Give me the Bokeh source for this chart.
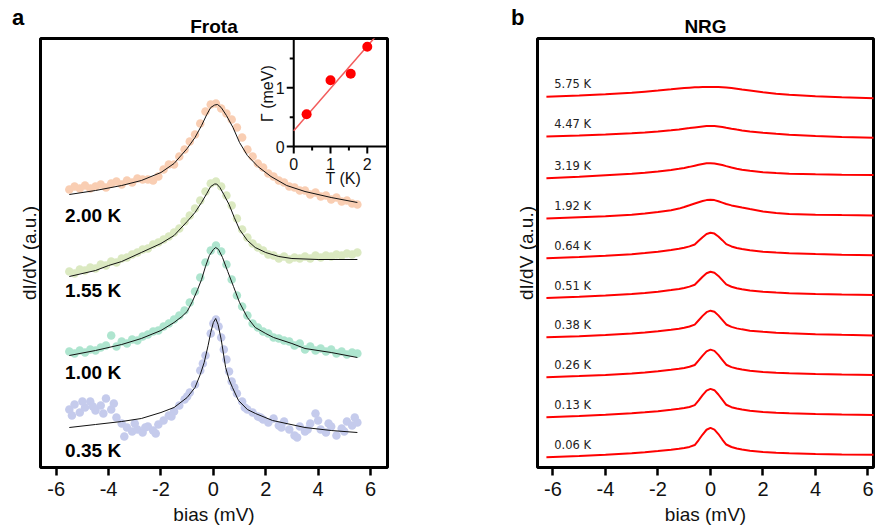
import math
from bokeh.plotting import figure
from bokeh.models import Range1d, FixedTicker, Title, Div
from bokeh.layouts import row
from bokeh.core.properties import value
from bokeh.embed import file_html
from bokeh.resources import INLINE

# ---------------- panel a : Frota fits of measured spectra ----------------
bias_pts = [-5.5, -5.3, -5.1, -4.9, -4.7, -4.5, -4.3, -4.1, -3.9, -3.7,
            -3.5, -3.3, -3.1, -2.9, -2.7, -2.5, -2.3, -2.1, -1.9, -1.7,
            -1.5, -1.3, -1.1, -0.9, -0.7, -0.5, -0.3, -0.1,
            0.1, 0.3, 0.5, 0.7, 0.9, 1.1, 1.3, 1.5, 1.7, 1.9,
            2.1, 2.3, 2.5, 2.7, 2.9, 3.1, 3.3, 3.5, 3.7, 3.9,
            4.1, 4.3, 4.5, 4.7, 4.9, 5.1, 5.3, 5.5]

data_200K = [278, 281, 279, 282, 279, 281, 283, 280, 284, 286,
             283, 287, 285, 289, 288, 288, 287, 291, 298, 303,
             303, 311, 318, 326, 333, 344, 356, 363,
             364, 359, 354, 348, 340, 330, 318, 311, 304, 300,
             294, 291, 287, 285, 281, 280, 277, 277, 273, 275,
             271, 272, 268, 270, 266, 267, 264, 263]
data_155K = [196, 194, 198, 197, 200, 199, 203, 202, 206, 205,
             209, 210, 213, 215, 218, 219, 223, 225, 228, 231,
             235, 239, 246, 252, 259, 267, 276, 284,
             286, 281, 272, 262, 249, 238, 230, 224, 220, 217,
             213, 212, 209, 211, 208, 210, 209, 211, 209, 212,
             210, 212, 211, 213, 212, 214, 213, 215]
data_100K = [116, 114, 117, 115, 118, 117, 120, 122, 132, 121,
             126, 124, 128, 127, 131, 133, 136, 137, 141, 144,
             148, 152, 157, 165, 176, 190, 205, 217,
             222, 216, 203, 188, 172, 161, 152, 144, 140, 136,
             134, 130, 129, 127, 126, 122, 124, 118, 121, 117,
             119, 116, 118, 114, 116, 113, 115, 114]
data_035K = [58, 63, 55, 60, 66, 57, 62, 69, 58, 50,
             44, 40, 36, 38, 35, 41, 37, 43, 47, 52,
             56, 62, 68, 75, 83, 97, 112, 134,
             148, 130, 108, 86, 74, 66, 58, 55, 51, 48,
             45, 49, 42, 46, 38, 32, 41, 36, 44, 54,
             38, 35, 41, 32, 39, 46, 42, 45]
bias_035K_extra = [-5.4, -5.0, -4.6, -4.2, -3.8, -3.4, -3.0, -2.6, -2.2, -1.6,
                   -1.0, -0.4, 0.0, 0.2, 0.4, 0.6, 0.8, 1.2, 1.8, 2.6,
                   3.2, 3.6, 4.0, 4.4, 5.0, 5.4]
data_035K_extra = [52, 66, 61, 54, 64, 31, 44, 40, 34, 51,
                   71, 104, 144, 141, 118, 96, 80, 60, 50, 40,
                   30, 38, 47, 44, 36, 50]

fit200_x = [-5.5, -4.5, -3.5, -2.75, -2.0, -1.5, -1.0, -0.7, -0.45, -0.25, -0.1, 0.05,
            0.16, 0.3, 0.5, 0.75, 1.0, 1.3, 1.7, 2.2, 2.8, 3.5, 4.5, 5.5]
fit200_y = [273, 277, 282, 287, 295, 304, 319, 330, 342, 353, 360, 362.5,
            363, 360, 352, 340, 325, 312, 301, 291, 282, 276, 270, 265]
fit155_x = [-5.5, -4.5, -4.0, -3.5, -2.75, -2.0, -1.5, -1.0, -0.7, -0.45, -0.25, -0.1, 0.05,
            0.13, 0.25, 0.4, 0.6, 0.8, 1.0, 1.3, 1.6, 2.0, 2.5, 3.0, 4.0, 5.5]
fit155_y = [191, 197, 202, 206, 215, 224, 232, 246, 255, 265, 274, 281, 283.5,
            283.5, 280, 273, 263, 250, 238, 227, 220, 215, 211, 209, 208, 208]
fit100_x = [-5.5, -4.5, -3.5, -2.75, -2.0, -1.5, -1.2, -1.0, -0.8, -0.6, -0.45, -0.3, -0.15, 0.0,
            0.09, 0.2, 0.35, 0.55, 0.77, 1.0, 1.3, 1.6, 2.0, 2.3, 3.0, 3.5, 4.5, 5.5]
fit100_y = [112, 117, 123, 129, 137, 145, 151, 156, 166, 178, 188, 201, 212, 218,
            220, 218, 210, 196, 181, 165, 150, 140, 134, 130, 124, 119, 115, 110]
fit035_x = [-5.5, -4.5, -3.5, -2.75, -2.0, -1.5, -1.0, -0.7, -0.5, -0.35, -0.2, -0.1, 0.0,
            0.09, 0.18, 0.3, 0.47, 0.6, 0.73, 0.96, 1.3, 1.61, 2.26, 3.5, 4.5, 5.5]
fit035_y = [40, 43, 46, 49, 55, 60, 70, 80, 93, 105, 122, 135, 145,
            149, 143, 128, 100, 88, 80, 67, 58, 54, 47, 40, 37, 35]

temps_a = ["2.00 K", "1.55 K", "1.00 K", "0.35 K"]

# inset: Gamma vs T
inset_T = [0.35, 1.0, 1.55, 2.0]
inset_G = [0.55, 1.13, 1.24, 1.70]
inset_fit_T = [0.0, 2.55]
inset_fit_G = [0.27, 2.106]
inset_xticks = [0, 1, 2]
inset_xminor = [0.5, 1.5]
inset_yticks = [0, 1]
inset_yminor = [0.5, 1.5]

# ---------------- panel b : NRG spectra ----------------
nrg_bias = [-6.25, -5, -4, -3, -2.5, -2, -1.5, -1.2, -1.0, -0.8, -0.6, -0.45, -0.3, -0.15, 0,
            0.15, 0.3, 0.45, 0.6, 0.8, 1.0, 1.2, 1.5, 2, 2.5, 3, 4, 5, 6.4]
nrg_575 = [371.3, 372.5, 373.7, 375.2, 376.3, 377.4, 378.6, 379.4, 379.9, 380.3,
           380.6, 380.8, 380.9, 381, 381, 381, 380.9, 380.7, 380.4, 379.9,
           379.2, 378.5, 377.5, 375.8, 374.3, 373.1, 371.8, 370.6, 369.6]
nrg_447 = [331.3, 332.3, 333.3, 334.6, 335.4, 336.5, 337.7, 338.5, 339.2, 339.8,
           340.5, 341, 341.5, 341.9, 342, 341.9, 341.5, 341, 340.2, 339.2,
           338.3, 337.5, 336.5, 335.2, 334.1, 333.2, 332, 331, 330]
nrg_319 = [289.7, 291.2, 292.6, 294, 295, 296.3, 297.8, 299, 299.9, 301,
           302.2, 303.1, 303.9, 304.5, 304.7, 304.4, 303.7, 302.8, 301.7, 300.3,
           299.1, 298.1, 297, 295.7, 294.8, 294.2, 293.6, 293.1, 292.7]
nrg_192 = [249.3, 250.6, 251.6, 253.1, 254.3, 255.7, 257.6, 259.2, 260.8, 262.5,
           264.3, 265.6, 266.8, 267.7, 268, 267.7, 266.6, 265.2, 263.8, 262.4,
           261.3, 260.2, 258.7, 256.4, 254.8, 253.8, 253.1, 252.7, 252.3]
nrg_064 = [209.5, 210.8, 212, 213.6, 214.7, 216, 217.7, 219, 220, 221.4,
           223.3, 227, 230.5, 233.8, 235, 234.2, 231.3, 227.6, 223.6, 221.3,
           219.8, 218.7, 217.4, 216.1, 215.2, 214.6, 213.7, 213.1, 212.5]
nrg_051 = [169.7, 170.9, 172.1, 173.7, 174.7, 176, 177.6, 178.8, 179.8, 181.1,
           183, 187, 191, 194.5, 196, 195, 191.8, 187.6, 183.3, 181,
           179.5, 178.5, 177.2, 176, 175.1, 174.5, 173.7, 173.1, 172.6]
nrg_038 = [130.3, 131.5, 132.7, 134.2, 135.2, 136.4, 137.9, 139, 139.9, 141.1,
           143, 147.4, 151.8, 155.5, 157, 155.9, 152.3, 147.8, 143.2, 140.8,
           139.3, 138.3, 137, 135.8, 134.9, 134.3, 133.5, 132.8, 132.2]
nrg_026 = [90.3, 91.5, 92.7, 94.2, 95.2, 96.4, 97.8, 98.8, 99.7, 100.8,
           102.6, 107.2, 112, 116.3, 118, 116.8, 112.7, 107.8, 102.9, 100.5,
           99.1, 98.1, 96.9, 95.7, 94.9, 94.4, 93.7, 93.1, 92.6]
nrg_013 = [50.3, 51.5, 52.7, 54.2, 55.2, 56.4, 57.8, 58.8, 59.6, 60.6,
           62.4, 67.2, 72.4, 77, 78.7, 77.4, 73.1, 67.9, 62.8, 60.4,
           59, 58, 56.8, 55.6, 54.8, 54.3, 53.6, 53.1, 52.6]
nrg_006 = [10.3, 11.5, 12.7, 14.2, 15.2, 16.4, 17.8, 18.8, 19.6, 20.6,
           22.5, 27.5, 33, 37.8, 39.7, 38, 33.5, 28, 23, 20.5,
           19, 18, 16.8, 15.6, 14.8, 14.3, 13.6, 13.1, 12.6]
temps_b = ["5.75 K", "4.47 K", "3.19 K", "1.92 K", "0.64 K",
           "0.51 K", "0.38 K", "0.26 K", "0.13 K", "0.06 K"]

bias_ticks = [-6, -4, -2, 0, 2, 4, 6]
bias_tick_text = ["-6", "-4", "-2", "0", "2", "4", "6"]

# ---------------- styling / layout ----------------
SANS = "Liberation Sans"
COLORS_A = ["#f9ceb3", "#dbe9c1", "#aee5cf", "#c5cbec"]
NRG_RED = "#ff0000"


def style_panel(p, title, title_offset):
    p.outline_line_color = "black"
    p.outline_line_width = 3
    p.grid.visible = False
    p.background_fill_color = "white"
    p.border_fill_color = "white"
    p.title = Title(text=title, align="center", offset=title_offset, text_font=SANS,
                    text_font_size="19px", text_font_style="bold", text_color="black", standoff=4)
    xa = p.xaxis[0]
    xa.ticker = FixedTicker(ticks=bias_ticks)
    xa.major_label_overrides = dict(zip(bias_ticks, bias_tick_text))
    xa.axis_line_color = None
    xa.major_tick_line_width = 2.5
    xa.major_tick_line_color = "black"
    xa.major_tick_out = 8
    xa.major_tick_in = 0
    xa.minor_tick_line_color = None
    xa.major_label_text_font = SANS
    xa.major_label_text_font_size = "20px"
    xa.major_label_text_color = "#111111"
    xa.major_label_standoff = 6
    xa.axis_label = "bias (mV)"
    xa.axis_label_text_font = SANS
    xa.axis_label_text_font_size = "19px"
    xa.axis_label_text_font_style = "normal"
    xa.axis_label_text_color = "#111111"
    xa.axis_label_standoff = 5
    ya = p.yaxis[0]
    ya.ticker = FixedTicker(ticks=[])
    ya.axis_line_color = None
    ya.major_tick_out = 0
    ya.major_tick_in = 0
    ya.minor_tick_line_color = None
    ya.major_label_standoff = 0
    ya.axis_label = "dI/dV (a.u.)"
    ya.axis_label_text_font = SANS
    ya.axis_label_text_font_size = "19px"
    ya.axis_label_text_font_style = "normal"
    ya.axis_label_text_color = "#111111"
    ya.axis_label_standoff = 1


def panel_letter(letter, left_px, top_px):
    return Div(text=letter, styles={
        "position": "absolute", "left": f"{left_px}px", "top": f"{top_px}px",
        "font-family": SANS, "font-size": "22px", "font-weight": "bold",
        "line-height": "1.15", "color": "black", "z-index": "10"})


# ---- panel a
pa = figure(width=470, height=531, x_range=Range1d(-6.6, 6.65), y_range=Range1d(0, 429),
            output_backend="svg", toolbar_location=None,
            min_border_left=40, min_border_right=83, min_border_top=38, min_border_bottom=64)
style_panel(pa, "Frota", 0)

for ys, col in zip([data_200K, data_155K, data_100K, data_035K], COLORS_A):
    pa.scatter(bias_pts, ys, size=8.5, fill_color=col, line_color=None)
pa.scatter(bias_035K_extra, data_035K_extra, size=8.5, fill_color=COLORS_A[3], line_color=None)

for fx, fy in [(fit200_x, fit200_y), (fit155_x, fit155_y), (fit100_x, fit100_y), (fit035_x, fit035_y)]:
    pa.line(fx, fy, line_color="#111111", line_width=1)

pa.text(x=[-5.66] * 4, y=[252, 177, 95, 17], text=temps_a,
        text_font=value(SANS), text_font_style="bold", text_font_size="19px",
        text_baseline="middle", text_align="left", text_color="black")

# inset via sub-coordinates
ins = pa.subplot(x_source=Range1d(0, 2.55), y_source=Range1d(0, 1.84),
                 x_target=Range1d(3.07, 6.65), y_target=Range1d(321, 429))
ins.segment(x0=[0, 0], y0=[0, 0], x1=[0, 2.55], y1=[1.84, 0], line_color="black", line_width=2)
ins.ray(x=inset_xticks, y=[0] * len(inset_xticks), length=7, length_units="screen",
        angle=-math.pi / 2, line_color="black", line_width=2)
ins.ray(x=inset_xminor, y=[0] * len(inset_xminor), length=4, length_units="screen",
        angle=-math.pi / 2, line_color="black", line_width=2)
ins.ray(x=[0] * len(inset_yticks), y=inset_yticks, length=7, length_units="screen",
        angle=math.pi, line_color="black", line_width=2)
ins.ray(x=[0] * len(inset_yminor), y=inset_yminor, length=4, length_units="screen",
        angle=math.pi, line_color="black", line_width=2)
ins.text(x=inset_xticks, y=[0] * len(inset_xticks), text=[str(t) for t in inset_xticks],
         y_offset=17, text_align="center", text_baseline="middle",
         text_font=value(SANS), text_font_size="16px", text_color="#111111")
ins.text(x=[0] * len(inset_yticks), y=inset_yticks, text=[str(t) for t in inset_yticks],
         x_offset=-9, text_align="right", text_baseline="middle",
         text_font=value(SANS), text_font_size="16px", text_color="#111111")
ins.text(x=[1.35], y=[0], text=["T (K)"], y_offset=32, text_align="center", text_baseline="middle",
         text_font=value(SANS), text_font_size="16px", text_color="#111111")
ins.text(x=[0], y=[0.9], text=["\u0393 (meV)"], x_offset=-26, angle=math.pi / 2,
         text_align="center", text_baseline="middle",
         text_font=value(SANS), text_font_size="16px", text_color="#111111")
ins.line(inset_fit_T, inset_fit_G, line_color="#f25c5c", line_width=1.5)
ins.scatter(inset_T, inset_G, size=10, fill_color="#ff0000", line_color=None)

# ---- panel b
pb = figure(width=405, height=531, x_range=Range1d(-6.59, 6.21), y_range=Range1d(0, 429.5),
            output_backend="svg", toolbar_location=None,
            min_border_left=67, min_border_right=2, min_border_top=38, min_border_bottom=64)
style_panel(pb, "NRG", 5)

nrg_curves = [nrg_575, nrg_447, nrg_319, nrg_192, nrg_064,
              nrg_051, nrg_038, nrg_026, nrg_013, nrg_006]
for cy in nrg_curves:
    pb.line(nrg_bias, cy, line_color=NRG_RED, line_width=2)

pb.text(x=[-5.95] * len(temps_b), y=[c[0] + 12.5 for c in nrg_curves], text=temps_b,
        text_font=value("DejaVu Sans"), text_font_size="11.5px",
        text_baseline="middle", text_align="left", text_color="#222222")

layout = row(pa, pb, panel_letter("a", 7, 0), panel_letter("b", 506, 0))
open("out.html", "w").write(file_html(layout, INLINE))
